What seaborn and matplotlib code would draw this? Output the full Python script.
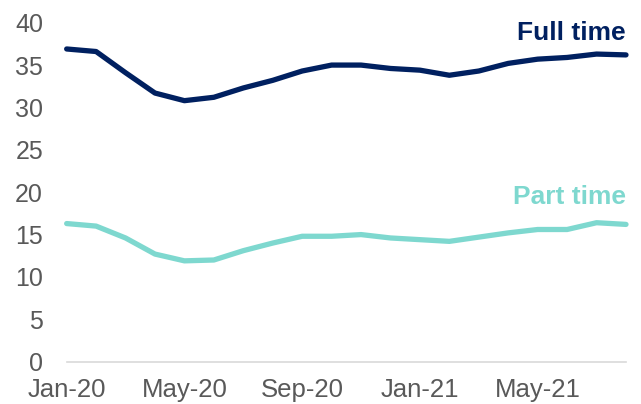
import pandas as pd
import matplotlib
matplotlib.use('Agg')
import matplotlib.pyplot as plt
import seaborn as sns

months = ['Jan-20', 'Feb-20', 'Mar-20', 'Apr-20', 'May-20', 'Jun-20', 'Jul-20', 'Aug-20',
          'Sep-20', 'Oct-20', 'Nov-20', 'Dec-20', 'Jan-21', 'Feb-21', 'Mar-21', 'Apr-21',
          'May-21', 'Jun-21', 'Jul-21', 'Aug-21']
full_time = [36.9, 36.6, 34.1, 31.7, 30.8, 31.2, 32.3, 33.2, 34.3, 35.0,
             35.0, 34.6, 34.4, 33.8, 34.3, 35.2, 35.7, 35.9, 36.3, 36.2]
part_time = [16.3, 16.0, 14.6, 12.7, 11.9, 12.0, 13.1, 14.0, 14.8, 14.8,
             15.0, 14.6, 14.4, 14.2, 14.7, 15.2, 15.6, 15.6, 16.4, 16.2]
tick_labels = ['Jan-20', 'May-20', 'Sep-20', 'Jan-21', 'May-21']

navy = '#002060'
teal = '#7ED8CF'

df = pd.DataFrame({
    'month': months * 2,
    'idx': list(range(len(months))) * 2,
    'value': full_time + part_time,
    'series': ['Full time'] * len(months) + ['Part time'] * len(months),
})

sns.set_style('white')
plt.rcParams['font.family'] = ['Liberation Sans', 'DejaVu Sans']

fig = plt.figure(figsize=(6.41, 4.04), dpi=100)
ax = fig.add_axes([0.104, 0.1047, 0.8726, 0.8391])

sns.lineplot(data=df, x='idx', y='value', hue='series',
             palette={'Full time': navy, 'Part time': teal},
             linewidth=3.8, legend=False, ax=ax)

ax.set_xlim(0, len(months) - 1)
ax.set_ylim(0, 40)
ax.set_yticks(range(0, 41, 5))
ax.set_xticks([months.index(m) for m in tick_labels])
ax.set_xticklabels(tick_labels)
ax.set_xlabel('')
ax.set_ylabel('')

for s in ['top', 'right', 'left']:
    ax.spines[s].set_visible(False)
ax.spines['bottom'].set_color('#D9D9D9')
ax.spines['bottom'].set_linewidth(1.2)
ax.tick_params(axis='x', colors='#D9D9D9', length=7, width=1.2, direction='out',
               labelcolor='#595959', labelsize=18.5, pad=5)
ax.tick_params(axis='y', length=0, labelcolor='#595959', labelsize=18, pad=17)
for line in ax.lines:
    line.set_clip_on(False)

ax.text(len(months) - 1, 38.8, 'Full time', color=navy, fontsize=19,
        fontweight='bold', ha='right', va='center')
ax.text(len(months) - 1, 19.4, 'Part time', color=teal, fontsize=19,
        fontweight='bold', ha='right', va='center')

plt.savefig('out.png', dpi=100)
plt.close()
